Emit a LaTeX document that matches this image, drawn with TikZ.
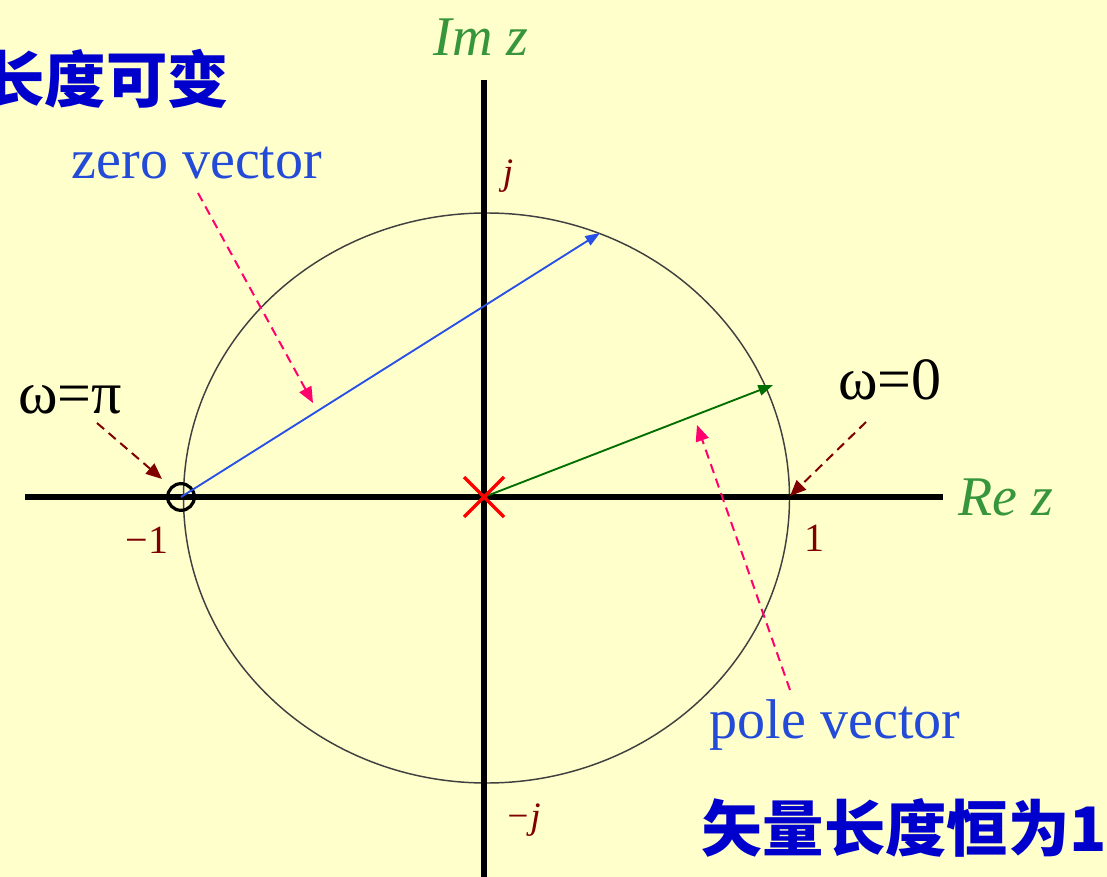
\documentclass[tikz,border=0pt]{standalone}
\usepackage{fontspec}
\setmainfont{Liberation Serif}
\newfontfamily\cjk{Noto Sans CJK SC}
\usetikzlibrary{arrows.meta}
\definecolor{bg}{RGB}{255,255,204}
\definecolor{cjkblue}{RGB}{0,0,204}
\definecolor{lblblue}{RGB}{35,75,215}
\definecolor{axgreen}{RGB}{55,150,60}
\definecolor{darkred}{RGB}{128,0,0}
\definecolor{pinkc}{RGB}{255,0,110}
\definecolor{vecgreen}{RGB}{0,110,0}
\definecolor{vecblue}{RGB}{40,80,230}
\tikzset{
  axis/.style={line width=4.5pt},
  axlbl/.style={text=axgreen,font=\fontsize{42}{46}\selectfont\itshape,inner sep=0pt},
  ticklbl/.style={text=darkred,font=\fontsize{30}{34}\selectfont,inner sep=0pt},
  vlbl/.style={text=lblblue,font=\fontsize{42}{46}\selectfont,inner sep=0pt},
  wlbl/.style={text=black,font=\fontsize{45}{49}\selectfont,inner sep=0pt},
  cjklbl/.style={text=cjkblue,font=\fontsize{46}{50}\selectfont\cjk\bfseries,inner sep=0pt},
  pointer/.style={dash pattern=on 7pt off 4.5pt,line width=1.5pt,-{Triangle[length=12pt,width=10pt]}},
  vec/.style={line width=1.4pt,-{Triangle[length=11pt,width=8pt]}}
}
\begin{document}
\begin{tikzpicture}[x=0.75pt,y=-0.75pt]
\useasboundingbox (0,0) rectangle (1107,877);
\fill[bg] (0,0) rectangle (1107,877);
% unit circle
\draw[line width=1.1pt,black!75] (486.5,498) ellipse [x radius=303, y radius=285];
% axes
\draw[axis] (25,497) -- (943,497);
\draw[axis] (484,80) -- (484,877);
% axis labels
\node[axlbl] (imz) at (481,37) {Im z};
\node[axlbl,anchor=west] (rez) at (958,497) {Re z};
\node[ticklbl,font=\fontsize{28}{32}\selectfont\itshape] (jp) at (508,176) {j};
\node[ticklbl,font=\fontsize{28}{32}\selectfont\itshape] (jm) at (523,820) {−j};
\node[ticklbl] (m1) at (147,540) {−1};
\node[ticklbl] (p1) at (814,538) {1};
% pole and zero
\coordinate (O) at (484,497);
\coordinate (zt) at (600,233);
\coordinate (pt) at (773,385);
\node[circle,draw,line width=2.4pt,minimum size=20pt,inner sep=0pt] (Z) at (181,497) {};
\draw[vec,vecblue] (Z.center) -- (zt);
\draw[vec,vecgreen] (O) -- (pt);
\draw[red,line width=2.6pt] (464,477) -- (504,517) (464,517) -- (504,477);
% labels
\node[vlbl] (zv) at (197,163) {zero vector};
\node[vlbl] (pv) at (835,725) {pole vector};
\node[wlbl] (wpi) at (70,400) {ω=π};
\node[wlbl] (w0) at (890,380) {ω=0};
\node[cjklbl,anchor=east] (c1) at (229,79) {长度可变};
\node[cjklbl,anchor=east] (c2) at (1107,828) {矢量长度恒为1};
% pointers
\coordinate (zvs) at (198,193);
\coordinate (zve) at (313,403);
\coordinate (pvs) at (790,690);
\coordinate (pve) at (697,425);
\coordinate (wps) at (97,423);
\coordinate (wpe) at (162,479);
\coordinate (w0s) at (866,422);
\coordinate (w0e) at (790,496);
\draw[pointer,pinkc] (zvs) -- (zve);
\draw[pointer,pinkc] (pvs) -- (pve);
\draw[pointer,darkred] (wps) -- (wpe);
\draw[pointer,darkred] (w0s) -- (w0e);
\end{tikzpicture}
\end{document}
